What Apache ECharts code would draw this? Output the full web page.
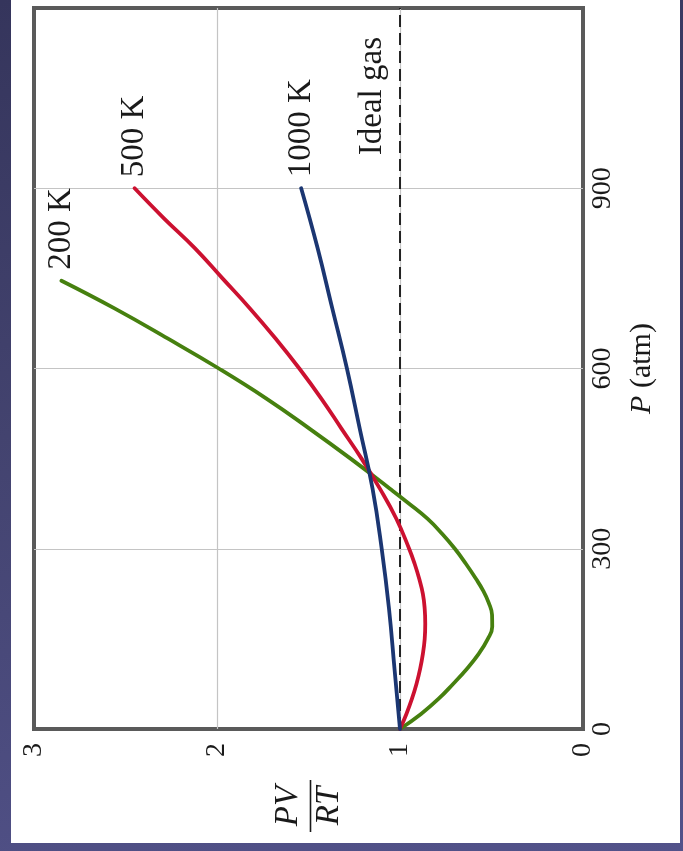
<!DOCTYPE html>
<html>
<head>
<meta charset="utf-8">
<title>Compressibility factor PV/RT vs pressure</title>
<script src="https://cdn.jsdelivr.net/npm/echarts@6/dist/echarts.min.js"></script>
<style>
  html, body { margin: 0; padding: 0; width: 683px; height: 851px; overflow: hidden; }
  body { background: linear-gradient(170deg, #35355c 0%, #43436f 45%, #52528a 100%); position: relative; }
  #panel { position: absolute; left: 11px; top: 0; width: 669px; height: 843px; background: #ffffff; }
  #chart { width: 669px; height: 843px; }
</style>
</head>
<body>
<div id="panel"><div id="chart"></div></div>
<script>
// Pressure (atm) and PV/RT readings for each temperature
const p200 = [0, 25, 50, 75, 100, 125, 150, 170, 190, 210, 230, 250, 275, 300, 325, 350, 375, 400, 450, 500, 550, 600, 650, 700, 746];
const z200 = [1.00, 0.885, 0.79, 0.71, 0.635, 0.57, 0.52, 0.496, 0.497, 0.515, 0.545, 0.585, 0.64, 0.70, 0.77, 0.85, 0.95, 1.055, 1.27, 1.495, 1.73, 1.99, 2.27, 2.56, 2.85];

const p500 = [0, 25, 50, 75, 100, 125, 150, 175, 200, 225, 250, 275, 300, 350, 400, 450, 500, 550, 600, 650, 700, 750, 800, 850, 900];
const z500 = [1.00, 0.965, 0.935, 0.91, 0.89, 0.875, 0.865, 0.862, 0.865, 0.875, 0.895, 0.92, 0.95, 1.02, 1.11, 1.21, 1.32, 1.43, 1.55, 1.68, 1.82, 1.97, 2.12, 2.29, 2.45];

const p1000 = [0, 100, 200, 300, 400, 500, 600, 700, 800, 900];
const z1000 = [1.00, 1.03, 1.06, 1.10, 1.15, 1.22, 1.29, 1.37, 1.45, 1.54];

const pIdeal = [0, 1200];
const zIdeal = [1, 1];

const curveNames = ['200 K', '500 K', '1000 K'];
const idealName = 'Ideal gas';
const pTickLabels = ['0', '300', '600', '900'];
const zTickLabels = ['0', '1', '2', '3'];

const SERIF = "'Liberation Serif', 'Times New Roman', 'DejaVu Serif', serif";
const INK = '#1a1a1a';

function pairs(ps, zs) { return ps.map((p, i) => [zs[i], p]); }

const chart = echarts.init(document.getElementById('chart'), null, { renderer: 'canvas' });

const curves = [
  { name: curveNames[0], data: pairs(p200, z200), color: '#46800f' },
  { name: curveNames[1], data: pairs(p500, z500), color: '#cc1130' },
  { name: curveNames[2], data: pairs(p1000, z1000), color: '#1b3672' }
];

const gridLine = { show: true, showMinLine: false, showMaxLine: false, lineStyle: { color: '#c4c4c4', width: 1.2 } };

const option = {
  animation: false,
  backgroundColor: 'transparent',
  grid: {
    left: 23, top: 8, width: 549, height: 721,
    show: true, borderColor: '#5a5a5a', borderWidth: 4, backgroundColor: 'transparent'
  },
  xAxis: {
    type: 'value', min: 0, max: 3, interval: 1, inverse: true, position: 'bottom',
    axisLine: { show: false }, axisTick: { show: false },
    splitLine: gridLine,
    axisLabel: {
      rotate: 90, margin: 14, fontSize: 28, fontFamily: SERIF, color: INK,
      formatter: v => zTickLabels[Math.round(v)]
    }
  },
  yAxis: {
    type: 'value', min: 0, max: 1200, interval: 300, position: 'right',
    axisLine: { show: false }, axisTick: { show: false },
    splitLine: gridLine,
    axisLabel: {
      rotate: 90, margin: 6, fontSize: 28, fontFamily: SERIF, color: INK,
      formatter: v => (v < 1200 ? pTickLabels[Math.round(v / 300)] : '')
    },
    name: '{i|P} (atm)', nameLocation: 'middle', nameRotate: 90, nameGap: 44,
    nameTextStyle: {
      fontSize: 30, fontFamily: SERIF, color: INK,
      rich: { i: { fontStyle: 'italic', fontSize: 30, fontFamily: SERIF, color: INK } }
    }
  },
  series: [
    {
      type: 'line', name: idealName, data: pairs(pIdeal, zIdeal), showSymbol: false, silent: true,
      lineStyle: { color: '#111', width: 1.8, type: [12, 6] }, z: 1
    }
  ].concat(curves.map(c => ({
    type: 'line', name: c.name, data: c.data, smooth: 0.45, showSymbol: false, silent: true,
    lineStyle: { color: c.color, width: 3.8, cap: 'round' }, z: 3
  })))
};

chart.setOption(option);

// Curve labels sit just past the high-pressure end of each curve, reading upward
const graphics = [];
curves.forEach(c => {
  const end = c.data[c.data.length - 1];
  const px = chart.convertToPixel({ gridIndex: 0 }, end);
  graphics.push({
    type: 'text', x: px[0], y: px[1] - 11, rotation: Math.PI / 2,
    style: { text: c.name, fontSize: 33, fontFamily: SERIF, fill: INK, align: 'left', verticalAlign: 'middle' }
  });
});

// "Ideal gas" label beside the dashed line
const idealPx = chart.convertToPixel({ gridIndex: 0 }, [1, 955]);
graphics.push({
  type: 'text', x: idealPx[0] - 28, y: idealPx[1], rotation: Math.PI / 2,
  style: { text: idealName, fontSize: 33, fontFamily: SERIF, fill: INK, align: 'left', verticalAlign: 'middle' }
});

// PV/RT fraction as the horizontal-axis title
const mid = chart.convertToPixel({ gridIndex: 0 }, [1.5, 0]);
const cy = mid[1] + 77;
graphics.push({
  type: 'group', x: mid[0] + 2, y: cy, rotation: Math.PI / 2,
  children: [
    { type: 'text', x: 0, y: -22, style: { text: 'PV', fontSize: 33, fontStyle: 'italic', fontFamily: SERIF, fill: INK, align: 'center', verticalAlign: 'middle' } },
    { type: 'line', shape: { x1: -26, y1: 0, x2: 26, y2: 0 }, style: { stroke: INK, lineWidth: 1.6 } },
    { type: 'text', x: 0, y: 19, style: { text: 'RT', fontSize: 33, fontStyle: 'italic', fontFamily: SERIF, fill: INK, align: 'center', verticalAlign: 'middle' } }
  ]
});

chart.setOption({ graphic: graphics });
</script>
</body>
</html>
